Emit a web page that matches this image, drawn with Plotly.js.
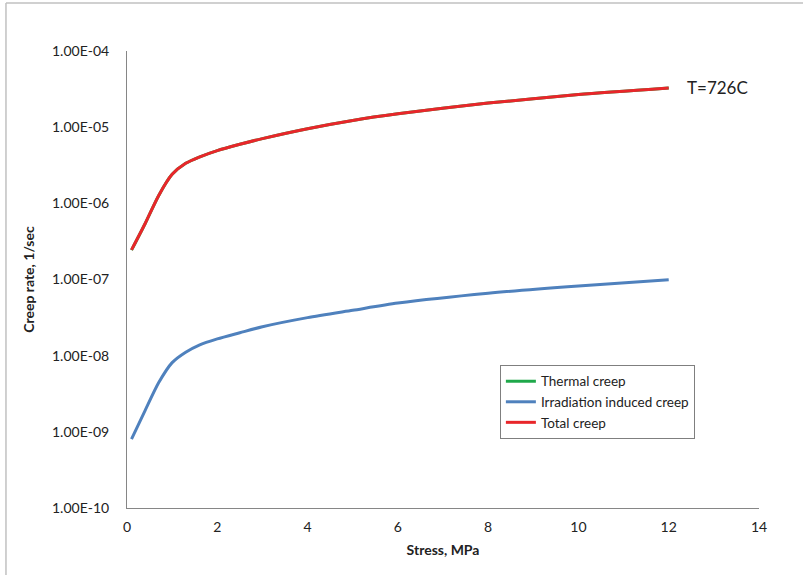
<!DOCTYPE html>
<html>
<head>
<meta charset="utf-8">
<script src="https://cdn.plot.ly/plotly-3.0.1.min.js"></script>
<style>html,body{margin:0;padding:0;background:#fff;}#chart{width:803px;height:575px;}</style>
</head>
<body>
<div id="chart"></div>
<script>
const stress = [0.1, 0.4, 0.7, 1.0, 1.3, 1.6, 2.0, 2.5, 3.0, 4.0, 5.0, 6.0, 8.0, 10.0, 12.0];
const thermalCreep = [2.43e-7, 5.4e-7, 1.26e-6, 2.4e-6, 3.35e-6, 4.05e-6, 4.93e-6, 5.96e-6, 7.08e-6, 9.55e-6, 1.225e-5, 1.496e-5, 2.07e-5, 2.68e-5, 3.27e-5];
const irradiationCreep = [8.0e-10, 1.9e-9, 4.4e-9, 8.1e-9, 1.11e-8, 1.38e-8, 1.66e-8, 2.0e-8, 2.4e-8, 3.16e-8, 3.94e-8, 4.9e-8, 6.6e-8, 8.2e-8, 9.9e-8];
const totalCreep = [2.45e-7, 5.4e-7, 1.26e-6, 2.4e-6, 3.35e-6, 4.05e-6, 4.93e-6, 5.96e-6, 7.08e-6, 9.55e-6, 1.225e-5, 1.496e-5, 2.07e-5, 2.68e-5, 3.27e-5];
const yTickVals = [1e-10, 1e-9, 1e-8, 1e-7, 1e-6, 1e-5, 1e-4];
const yTickText = ["1.00E-10", "1.00E-09", "1.00E-08", "1.00E-07", "1.00E-06", "1.00E-05", "1.00E-04"];
const xTickVals = [0, 2, 4, 6, 8, 10, 12, 14];

const font = "Lato, 'Open Sans', sans-serif";
const traces = [
  {x: stress, y: thermalCreep, name: "Thermal creep", mode: "lines", line: {color: "#1fa84a", width: 3, shape: "spline", smoothing: 0.7}},
  {x: stress, y: irradiationCreep, name: "Irradiation induced creep", mode: "lines", line: {color: "#4f81bd", width: 3, shape: "spline", smoothing: 0.7}},
  {x: stress, y: totalCreep, name: "Total creep", mode: "lines", line: {color: "#e8262a", width: 3, shape: "spline", smoothing: 0.7}}
];
const layout = {
  width: 803, height: 575,
  margin: {l: 127, r: 44, t: 51, b: 67},
  paper_bgcolor: "#fff", plot_bgcolor: "#fff",
  font: {family: font, size: 14, color: "#222"},
  showlegend: true,
  legend: {x: 0.59, y: 0.313, xanchor: "left", yanchor: "top", bordercolor: "#7f7f7f", borderwidth: 1,
           bgcolor: "#fff", font: {family: font, size: 13.5, color: "#222"}, tracegroupgap: 4, itemwidth: 30},
  xaxis: {range: [0, 14], tickvals: xTickVals, showgrid: false, zeroline: false, showline: true,
          linecolor: "#868686", linewidth: 1, ticks: "", ticklabelstandoff: 6,
          title: {text: "<b>Stress, MPa</b>", font: {family: font, size: 14}, standoff: 11}},
  yaxis: {type: "log", range: [-10, -4], tickvals: yTickVals, ticktext: yTickText, showgrid: false, zeroline: false,
          showline: true, linecolor: "#868686", linewidth: 1, ticks: "", ticklabelstandoff: 14,
          title: {text: "<b>Creep rate, 1/sec</b>", font: {family: font, size: 14}, standoff: 14}},
  annotations: [{x: 12.36, y: Math.log10(3.3e-5), xref: "x", yref: "y", text: "T=726C", showarrow: false,
                 xanchor: "left", yanchor: "middle", font: {family: font, size: 17, color: "#222"}}],
  shapes: [
    {type: "line", xref: "paper", yref: "paper", x0: -0.1915, x1: 1.08, y0: 1.105, y1: 1.105, line: {color: "#c0c0c0", width: 1.5}},
    {type: "line", xref: "paper", yref: "paper", x0: -0.1915, x1: -0.1915, y0: -0.16, y1: 1.105, line: {color: "#c0c0c0", width: 1.5}}
  ]
};
Plotly.newPlot("chart", traces, layout, {displayModeBar: false, staticPlot: true});
</script>
</body>
</html>
